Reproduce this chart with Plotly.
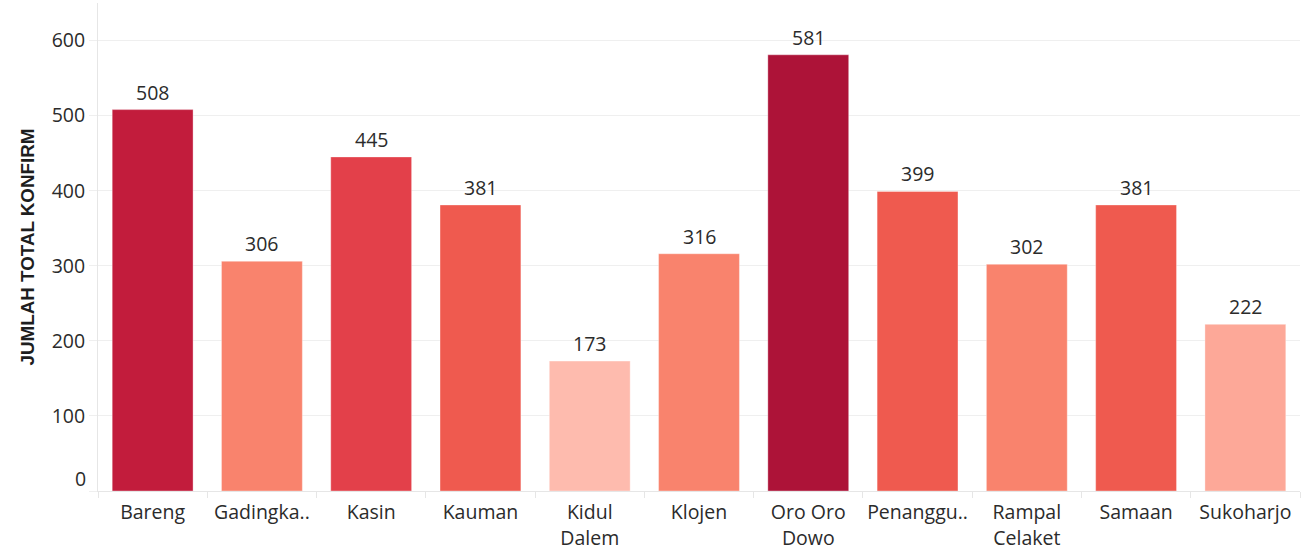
import plotly.graph_objects as go

# Kelurahan names, confirmed case totals and the bar colour for each
kelurahan = ["Bareng", "Gadingka..", "Kasin", "Kauman", "Kidul<br>Dalem", "Klojen",
             "Oro Oro<br>Dowo", "Penanggu..", "Rampal<br>Celaket", "Samaan", "Sukoharjo"]
total_konfirm = [508, 306, 445, 381, 173, 316, 581, 399, 302, 381, 222]
bar_colors = ["#C21C3C", "#F9836D", "#E3404A", "#EF5A4F", "#FEBBAE", "#F9836D",
              "#AD1338", "#EF5A4F", "#F9836D", "#EF5A4F", "#FDA898"]
y_ticks = [0, 100, 200, 300, 400, 500, 600]

TEXT = "#2B2B2B"
GRID = "#EFEFEF"
FONT = "Open Sans"
FS = 19.5

positions = list(range(len(kelurahan)))

fig = go.Figure(go.Bar(
    x=positions,
    y=total_konfirm,
    marker=dict(color=bar_colors, line=dict(color="rgba(255,255,255,0.35)", width=1)),
    width=0.74,
    hoverinfo="skip",
))

annotations = []
# value labels above each bar
for xi, v in zip(positions, total_konfirm):
    annotations.append(dict(x=xi, y=v, text=str(v), showarrow=False, xref="x", yref="y",
                            yanchor="bottom", yshift=2,
                            font=dict(family=FONT, size=FS, color=TEXT)))
# the lowest tick label sits a bit above its gridline
annotations.append(dict(x=0, xref="paper", y=0, yref="y", text=str(y_ticks[0]), showarrow=False,
                        xanchor="right", yanchor="middle", xshift=-10, yshift=13,
                        font=dict(family=FONT, size=FS, color=TEXT)))

fig.update_layout(
    width=1314, height=560,
    margin=dict(l=98, r=14, t=3, b=69),
    paper_bgcolor="white", plot_bgcolor="white",
    showlegend=False,
    annotations=annotations,
    xaxis=dict(
        range=[-0.5, len(kelurahan) - 0.5],
        tickmode="array", tickvals=positions, ticktext=kelurahan,
        ticks="", tickfont=dict(family=FONT, size=FS, color=TEXT),
        ticklabelstandoff=4,
        showgrid=False, zeroline=False,
        showline=True, linecolor="#E6E6E6", linewidth=1,
        minor=dict(tick0=-0.5, dtick=1, ticks="outside", ticklen=6, tickcolor="#E6E6E6", showgrid=False),
        fixedrange=True,
    ),
    yaxis=dict(
        range=[0, 650],
        tickmode="array", tickvals=y_ticks,
        ticktext=[""] + [str(t) for t in y_ticks[1:]],
        ticks="outside", ticklen=8, tickcolor=GRID,
        tickfont=dict(family=FONT, size=FS, color=TEXT),
        showgrid=True, gridcolor=GRID, gridwidth=1,
        zeroline=False,
        showline=True, linecolor="#E6E6E6", linewidth=1,
        title=dict(text="<b>JUMLAH TOTAL KONFIRM</b>", standoff=12,
                   font=dict(family="Liberation Sans", size=18.8, color="#1E1E1E")),
        fixedrange=True,
    ),
    bargap=0.26,
)

fig.write_html("out.html")
